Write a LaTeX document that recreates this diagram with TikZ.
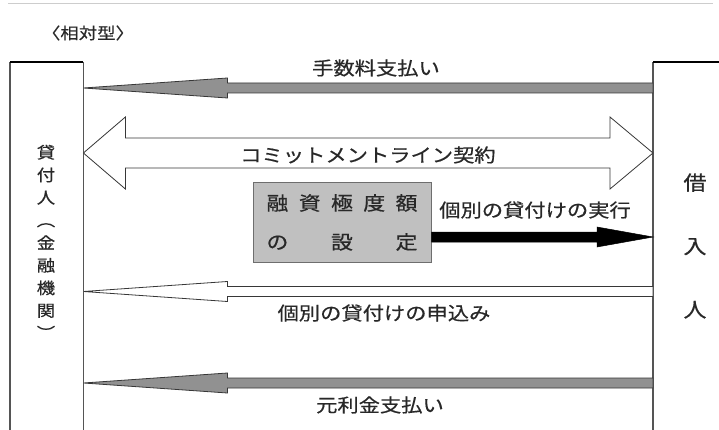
\documentclass[tikz,border=0pt]{standalone}
\usepackage{fontspec}
\setmainfont{Noto Sans CJK JP}[FakeStretch=1.15,FakeBold=0.6]
\usetikzlibrary{calc}
\definecolor{txt}{RGB}{40,40,40}
\definecolor{arrfill}{RGB}{145,145,145}
\definecolor{arrline}{RGB}{55,55,55}
\definecolor{boxfill}{RGB}{192,192,192}
\definecolor{boxline}{RGB}{110,110,110}
\definecolor{sidecol}{RGB}{85,85,85}
\definecolor{rulecol}{RGB}{205,205,205}
\newcommand\LeftArr[3]{\draw[#1] (#2) -- ++(144,-10) -- ++(0,5) -- ($(#3)+(0,-5)$) -- ($(#3)+(0,5)$) -- ($(#2)+(144,5)$) -- ++(0,5) -- cycle;}
\begin{document}
\begin{tikzpicture}[x=1pt,y=-1pt,
  lbl/.style={text=txt,font=\fontsize{18.5}{20}\selectfont,inner sep=0pt},
  sideline/.style={draw=sidecol,line width=1.3pt},
  topline/.style={draw=black,line width=2pt},
  grayarr/.style={fill=arrfill,draw=arrline,line width=0.8pt},
  hollowarr/.style={fill=white,draw=arrline,line width=0.8pt},
  blackarr/.style={fill=black,draw=black,line width=0.5pt},
  limitbox/.style={fill=boxfill,draw=boxline,line width=1pt,inner sep=0pt,align=center,text=txt}]
\useasboundingbox (0,0) rectangle (719,430);
\draw[rulecol,line width=1pt] (8,4) -- (713,4);
\node[lbl,font=\fontsize{16}{18}\selectfont] (kind) at (88,33) {〈相対型〉};
% boxes
\node[inner sep=0pt,minimum width=73pt,minimum height=368pt,anchor=north west] (lender) at (10,62) {};
\node[inner sep=0pt,minimum width=70pt,minimum height=368pt,anchor=north west] (borrower) at (653,62) {};
\draw[sideline] (lender.south west) -- (lender.north west);
\draw[sideline] (lender.north east) -- (lender.south east);
\draw[topline] (lender.north west) -- (lender.north east);
\draw[sideline] (borrower.north west) -- (borrower.south west);
\draw[topline] (borrower.north west) -- (borrower.north east);
\node[lbl,align=center,font=\fontsize{16}{22.6}\selectfont] (lendertxt) at (46,242) {貸\\付\\人\\︵\\金\\融\\機\\関\\︶};
\node[lbl,align=center,font=\fontsize{20}{63.5}\selectfont] (borrowertxt) at (695,246) {借\\入\\人};
% arrow 1
\coordinate (a1t) at (lender.east |- 0,88);
\coordinate (a1s) at (borrower.west |- 0,88);
\LeftArr{grayarr}{a1t}{a1s}
\node[lbl] (fee) at (376,68) {手数料支払い};
% double arrow
\coordinate (cl) at (lender.east |- 0,153);
\coordinate (cr) at (borrower.west |- 0,153);
\draw[hollowarr] (cl) -- ++(42,-36) -- ++(0,21) -- ($(cr)+(-43,-15)$) -- ++(0,-21) -- (cr) -- ++(-43,36) -- ++(0,-21) -- ($(cl)+(42,15)$) -- ++(0,21) -- cycle;
\node[lbl] (commit) at (368,155) {コミットメントライン契約};
% limit box
\node[limitbox,minimum width=178pt,minimum height=79pt,font=\fontsize{19}{39}\selectfont] (limit) at (342,222.5)
  {\makebox[151pt][s]{融\hfill 資\hfill 極\hfill 度\hfill 額}\\\makebox[151pt][s]{の\hfill 設\hfill 定}};
% black arrow
\coordinate (bs) at (limit.east |- 0,237);
\coordinate (bt) at (borrower.west |- 0,237);
\draw[blackarr] (bt) -- ++(-56,-10) -- ++(0,5) -- ($(bs)+(0,-5)$) -- ($(bs)+(0,5)$) -- ($(bt)+(-56,5)$) -- ++(0,5) -- cycle;
\node[lbl] (exec) at (535,210) {個別の貸付けの実行};
% arrow 4
\coordinate (a4t) at (lender.east |- 0,291.5);
\coordinate (a4s) at (borrower.west |- 0,291.5);
\LeftArr{hollowarr}{a4t}{a4s}
\node[lbl] (apply) at (384,313) {個別の貸付けの申込み};
% arrow 5
\coordinate (a5t) at (lender.east |- 0,383);
\coordinate (a5s) at (borrower.west |- 0,383);
\LeftArr{grayarr}{a5t}{a5s}
\node[lbl] (repay) at (380,405) {元利金支払い};
\end{tikzpicture}
\end{document}
